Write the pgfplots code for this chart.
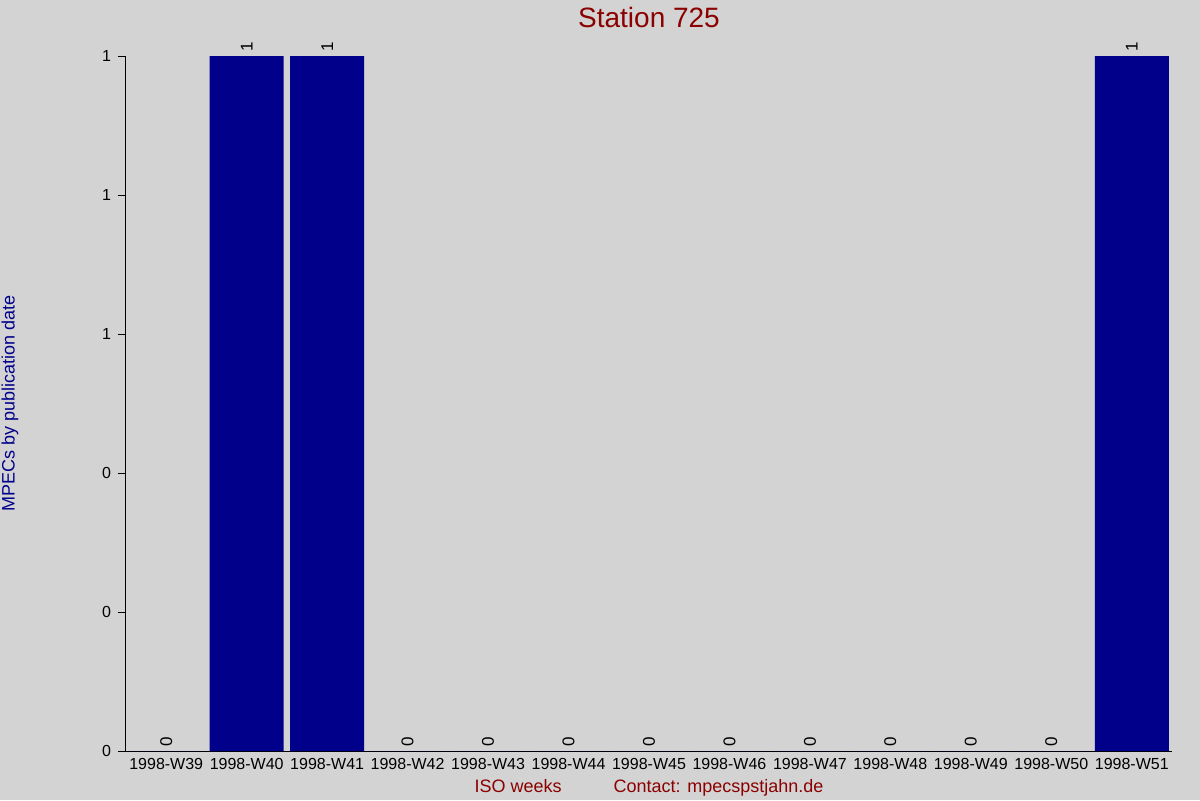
\documentclass[border=0pt]{standalone}
\usepackage{pgfplots}
\pgfplotsset{compat=1.18}
\usepackage{fontspec}
\setmainfont{Liberation Sans}
\definecolor{bg}{HTML}{D3D3D3}
\definecolor{barblue}{HTML}{00008B}
\definecolor{titlered}{HTML}{8B0000}

\begin{document}
\begin{tikzpicture}
    \useasboundingbox (0,0) rectangle (600pt,400pt);
    \fill[bg] (0,0) rectangle (600pt,400pt);
    \begin{axis}[
        at={(63pt,24.5pt)},
        anchor=south west,
        scale only axis,
        width=523pt,
        height=347.5pt,
        ybar=0pt,
        bar width=37pt,
        xmin=-0.5, xmax=12.5,
        ymin=0, ymax=1,
        xtick=data,
        xticklabels={1998-W39,1998-W40,1998-W41,1998-W42,1998-W43,1998-W44,1998-W45,1998-W46,1998-W47,1998-W48,1998-W49,1998-W50,1998-W51},
        ytick={0,0.2,0.4,0.6,0.8,1},
        yticklabels={0,0,0,1,1,1},
        axis x line=bottom,
        axis y line=left,
        axis line style={-, line width=0.5pt, black},
        x tick style={draw=none},
        y tick style={line width=0.5pt, black},
        tick align=outside,
        major tick length=4pt,
        tick label style={font=\fontsize{8}{9}\selectfont},
        xticklabel style={yshift=4pt},
        /pgf/number format/assume math mode=true,
        title={Station 725},
        title style={at={(axis description cs:0.5,1)}, anchor=center, yshift=13.5pt,
            font=\fontsize{14}{16}\selectfont, text=titlered},
        ylabel={MPECs by publication date},
        ylabel style={at={(axis description cs:-0.111,0.5)}, anchor=center,
            font=\fontsize{9}{11}\selectfont, text=barblue},
        xlabel={ISO weeks\hspace{26pt}Contact: mpecspstjahn.de},
        xlabel style={at={(axis description cs:0.5,-0.0504)}, anchor=center, yshift=-1pt,
            font=\fontsize{9}{11}\selectfont, text=titlered},
        nodes near coords,
        nodes near coords style={font=\fontsize{8.5}{9}\selectfont, rotate=90, anchor=west,
            text=black, inner sep=2pt},
    ]
    \addplot[fill=barblue, draw=none] coordinates {
        (0,0) (1,1) (2,1) (3,0) (4,0) (5,0) (6,0)
        (7,0) (8,0) (9,0) (10,0) (11,0) (12,1)
    };
    \end{axis}
\end{tikzpicture}
\end{document}
